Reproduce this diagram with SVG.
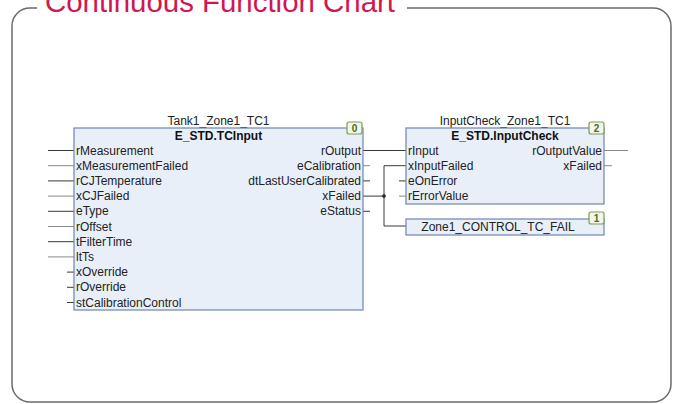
<svg xmlns="http://www.w3.org/2000/svg" width="675" height="404" viewBox="0 0 675 404">
<style>
.frame{fill:none;stroke:#6b6b6b;stroke-width:1.5}
.title{font-family:"Liberation Sans",Arial,sans-serif;font-size:29px;fill:#d0174f}
.blk{fill:#e9eff9;stroke:#6f84ad;stroke-width:1.2}
.t{font-family:"Liberation Sans",Arial,sans-serif;font-size:12px;fill:#222}
.b{font-family:"Liberation Sans",Arial,sans-serif;font-size:12px;font-weight:bold;fill:#111}
.r{text-anchor:end}
.m{text-anchor:middle}
.badge{fill:#f3f7ea;stroke:#7b9c56;stroke-width:1.2}
.bt{font-family:"Liberation Sans",Arial,sans-serif;font-size:10px;font-weight:bold;fill:#4a6b25;text-anchor:middle}
.w{fill:none;stroke:#3a3a3a;stroke-width:1}
.g{fill:none;stroke:#8a8a8a;stroke-width:1}
</style>
<rect x="0" y="0" width="675" height="404" fill="#ffffff"/>
<path class="frame" d="M37 8 H30 A18 18 0 0 0 12 26 V384 A18 18 0 0 0 30 402 H653 A18 18 0 0 0 671 384 V26 A18 18 0 0 0 653 8 H407"/>
<text class="title" x="45" y="12" textLength="350" lengthAdjust="spacingAndGlyphs">Continuous Function Chart</text>

<g id="connectors">
<line class="w" x1="48" y1="150.5" x2="74" y2="150.5"/>
<line class="g" x1="48" y1="165.7" x2="74" y2="165.7"/>
<line class="w" x1="48" y1="180.9" x2="74" y2="180.9"/>
<line class="g" x1="48" y1="196.1" x2="74" y2="196.1"/>
<line class="w" x1="48" y1="211.3" x2="74" y2="211.3"/>
<line class="g" x1="48" y1="226.5" x2="74" y2="226.5"/>
<line class="w" x1="48" y1="241.7" x2="74" y2="241.7"/>
<line class="g" x1="48" y1="256.9" x2="74" y2="256.9"/>
<line class="w" x1="67" y1="272.1" x2="74" y2="272.1"/>
<line class="w" x1="67" y1="287.3" x2="74" y2="287.3"/>
<line class="w" x1="67" y1="302.5" x2="74" y2="302.5"/>
<line class="w" x1="363" y1="150.5" x2="406" y2="150.5"/>
<line class="g" x1="363" y1="165.7" x2="370" y2="165.7"/>
<line class="w" x1="363" y1="180.9" x2="370" y2="180.9"/>
<line class="w" x1="363" y1="196.1" x2="384" y2="196.1"/>
<line class="w" x1="363" y1="211.3" x2="370" y2="211.3"/>
<path class="w" d="M406 165.7 H384 V226 H406"/>
<circle cx="384" cy="196.1" r="1.8" fill="#222"/>
<line class="w" x1="399" y1="180.9" x2="406" y2="180.9"/>
<line class="g" x1="399" y1="196.1" x2="406" y2="196.1"/>
<line class="g" x1="604" y1="150.5" x2="628" y2="150.5"/>
<line class="g" x1="604" y1="165.7" x2="612" y2="165.7"/>
</g>

<g id="tcinput">
<text class="t m" x="218.5" y="125">Tank1_Zone1_TC1</text>
<rect class="blk" x="74" y="128" width="289" height="182"/>
<text class="b m" x="218.5" y="139.5">E_STD.TCInput</text>
<text class="t" x="76" y="154.5">rMeasurement</text>
<text class="t" x="76" y="169.7">xMeasurementFailed</text>
<text class="t" x="76" y="184.9">rCJTemperature</text>
<text class="t" x="76" y="200.1">xCJFailed</text>
<text class="t" x="76" y="215.3">eType</text>
<text class="t" x="76" y="230.5">rOffset</text>
<text class="t" x="76" y="245.7">tFilterTime</text>
<text class="t" x="76" y="260.9">ltTs</text>
<text class="t" x="76" y="276.1">xOverride</text>
<text class="t" x="76" y="291.3">rOverride</text>
<text class="t" x="76" y="306.5">stCalibrationControl</text>
<text class="t r" x="361" y="154.5">rOutput</text>
<text class="t r" x="361" y="169.7">eCalibration</text>
<text class="t r" x="361" y="184.9">dtLastUserCalibrated</text>
<text class="t r" x="361" y="200.1">xFailed</text>
<text class="t r" x="361" y="215.3">eStatus</text>
<rect class="badge" x="347" y="122" width="15" height="12" rx="2"/>
<text class="bt" x="354.5" y="131.5">0</text>
</g>

<g id="inputcheck">
<text class="t m" x="505" y="125">InputCheck_Zone1_TC1</text>
<rect class="blk" x="406" y="128" width="198" height="76"/>
<text class="b m" x="505" y="139.5">E_STD.InputCheck</text>
<text class="t" x="408" y="154.5">rInput</text>
<text class="t" x="408" y="169.7">xInputFailed</text>
<text class="t" x="408" y="184.9">eOnError</text>
<text class="t" x="408" y="200.1">rErrorValue</text>
<text class="t r" x="602" y="154.5">rOutputValue</text>
<text class="t r" x="602" y="169.7">xFailed</text>
<rect class="badge" x="589" y="122" width="15" height="12" rx="2"/>
<text class="bt" x="596.5" y="131.5">2</text>
</g>

<g id="output1">
<rect class="blk" x="406" y="219" width="198" height="16"/>
<text class="t m" x="498" y="231">Zone1_CONTROL_TC_FAIL</text>
<rect class="badge" x="589" y="212" width="15" height="12" rx="2"/>
<text class="bt" x="596.5" y="221.5">1</text>
</g>
</svg>
